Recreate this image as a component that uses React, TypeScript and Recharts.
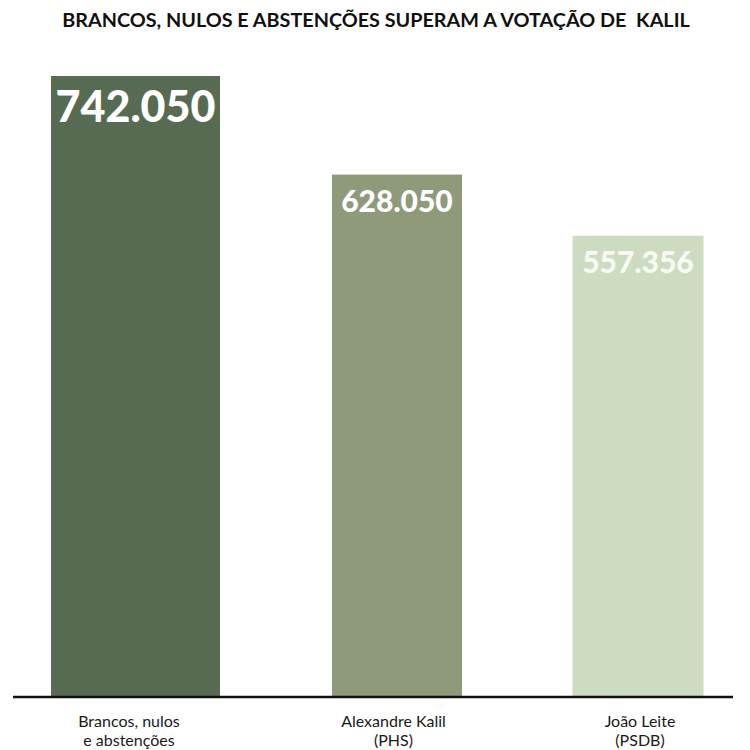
import React from 'react';
import { BarChart, Bar, XAxis, YAxis, LabelList, Cell } from 'recharts';

const TITLE = 'BRANCOS, NULOS E ABSTENÇÕES SUPERAM A VOTAÇÃO DE  KALIL';
const CATEGORIES = ['Brancos, nulos\ne abstenções', 'Alexandre Kalil\n(PHS)', 'João Leite\n(PSDB)'];
const VOTES = [742050, 628050, 557356];
const VALUE_LABELS = ['742.050', '628.050', '557.356'];

const COLORS = ['#576B53', '#8F9A7B', '#CDDBC0'];
const LABEL_COLORS = ['#FFFFFF', '#FFFFFF', '#F7FAF3'];
const LABEL_SIZES = [43, 30, 30];
const LABEL_OFFSETS = [45.5, 37, 37];
const BAR_WIDTHS = [169, 130, 131];
const BAR_SHIFTS = [2.5, 24, 25];
const TICK_SHIFTS = [-4, 20.5, 27];
const Y_MIN = 24000;
const Y_MAX = 742050;

const data = CATEGORIES.map((c, i) => ({ name: c, votes: VOTES[i], label: VALUE_LABELS[i] }));

const FONT = 'Lato, "DejaVu Sans", sans-serif';

const BarShape = (props: any) => {
  const { x, y, width, height, index, fill } = props;
  const cx = x + width / 2 + BAR_SHIFTS[index];
  const w = BAR_WIDTHS[index];
  return <rect x={cx - w / 2} y={y} width={w} height={height} fill={fill} />;
};

const ValueLabel = (props: any) => {
  const { x, y, width, index, value } = props;
  const cx = x + width / 2 + BAR_SHIFTS[index];
  return (
    <text
      x={cx}
      y={y + LABEL_OFFSETS[index]}
      textAnchor="middle"
      fill={LABEL_COLORS[index]}
      fontFamily={FONT}
      fontWeight={900}
      fontSize={LABEL_SIZES[index]}
    >
      {value}
    </text>
  );
};

const Tick = (props: any) => {
  const { x, y, payload, index } = props;
  const lines = String(payload.value).split('\n');
  const cx = x + TICK_SHIFTS[index];
  return (
    <g>
      {lines.map((l, i) => (
        <text
          key={i}
          x={cx}
          y={y + 22 + i * 19}
          textAnchor="middle"
          fill="#1a1a1a"
          fontFamily={FONT}
          fontSize={16}
        >
          {l}
        </text>
      ))}
    </g>
  );
};

export default function App() {
  return (
    <div style={{ position: 'relative', width: 742, height: 742, background: '#fff' }}>
      <svg width={742} height={40} style={{ position: 'absolute', left: 0, top: 0 }}>
        <text
          x={368}
          y={19.3}
          textAnchor="middle"
          fontFamily={FONT}
          fontWeight={700}
          fontSize={19.8}
          fill="#111"
          style={{ whiteSpace: 'pre' }}
        >
          {TITLE}
        </text>
      </svg>
      <div style={{ position: 'absolute', left: 0, top: 0 }}>
        <BarChart
          width={742}
          height={742}
          data={data}
          margin={{ top: 68, right: 17, bottom: 0, left: 5 }}
          barCategoryGap="30%"
        >
          <XAxis
            dataKey="name"
            axisLine={{ stroke: '#111', strokeWidth: 2.5 }}
            tickLine={false}
            tick={<Tick />}
            height={53}
            interval={0}
          />
          <YAxis hide domain={[Y_MIN, Y_MAX]} allowDataOverflow />
          <Bar dataKey="votes" isAnimationActive={false} shape={<BarShape />}>
            {data.map((d, i) => (
              <Cell key={i} fill={COLORS[i]} />
            ))}
            <LabelList dataKey="label" content={<ValueLabel />} />
          </Bar>
        </BarChart>
      </div>
    </div>
  );
}
